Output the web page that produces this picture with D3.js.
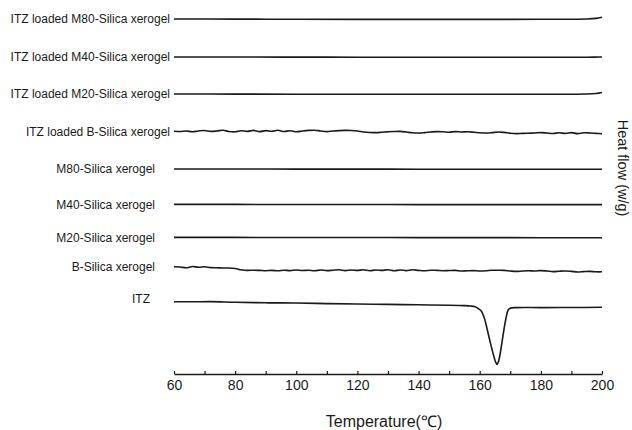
<!DOCTYPE html>
<html>
<head>
<meta charset="utf-8">
<script src="https://cdn.jsdelivr.net/npm/d3@7"></script>
<style>
  body { margin: 0; background: #fff; }
  svg text { font-family: "Liberation Sans", Arial, sans-serif; fill: #1a1a1a; }
</style>
</head>
<body>
<svg id="chart" width="632" height="430"></svg>
<script>
// DSC traces (heat flow, stacked with vertical offsets, arbitrary units)

// Temperature grid for the noisy xerogel traces (°C)
const gridTemps = [60, 62, 64, 66, 68, 70, 72, 74, 76, 78, 80, 82, 84, 86, 88, 90, 92, 94, 96, 98,
  100, 102, 104, 106, 108, 110, 112, 114, 116, 118, 120, 122, 124, 126, 128, 130, 132, 134, 136, 138,
  140, 142, 144, 146, 148, 150, 152, 154, 156, 158, 160, 162, 164, 166, 168, 170, 172, 174, 176, 178,
  180, 182, 184, 186, 188, 190, 192, 194, 196, 198, 200];

// Temperature points for the smooth traces (°C)
const flatTemps = [60, 80, 100, 120, 140, 160, 180, 195, 198, 200];

// ITZ temperature points, dense around the melting endotherm (°C)
const itzTemps = [60, 66, 72, 80, 90, 100, 110, 120, 130, 140, 150, 155, 157, 158.5, 159.5, 160.5,
  161.5, 162.5, 163.5, 164.5, 165.2, 165.7, 166.2, 167, 167.8, 168.6, 169.3, 170, 172, 180, 190, 200];

const loadedM80Flow = [35.5, 35.49, 35.47, 35.46, 35.46, 35.46, 35.47, 35.5, 35.56, 35.68];
const loadedM40Flow = [31.7, 31.7, 31.69, 31.68, 31.67, 31.68, 31.68, 31.68, 31.69, 31.7];
const loadedM20Flow = [28.0, 27.99, 27.98, 27.97, 27.97, 27.97, 27.98, 28.0, 28.05, 28.15];

const loadedBFlow = [24.28, 24.25, 24.3, 24.22, 24.3, 24.35, 24.26, 24.3, 24.38, 24.25,
  24.22, 24.33, 24.26, 24.36, 24.24, 24.34, 24.27, 24.37, 24.25, 24.33,
  24.22, 24.3, 24.36, 24.38, 24.3, 24.24, 24.3, 24.34, 24.36, 24.35,
  24.3, 24.2, 24.15, 24.14, 24.18, 24.22, 24.25, 24.26, 24.2, 24.12,
  24.1, 24.14, 24.2, 24.24, 24.22, 24.18, 24.24, 24.2, 24.22, 24.18,
  24.12, 24.1, 24.14, 24.2, 24.16, 24.08, 24.04, 24.06, 24.08, 24.1,
  24.14, 24.1, 24.05, 24.12, 24.06, 24.14, 24.04, 24.12, 24.1, 24.06, 24.02];

const m80Flow = [20.5, 20.5, 20.49, 20.49, 20.48, 20.48, 20.48, 20.48, 20.48, 20.48];
const m40Flow = [16.96, 16.96, 16.95, 16.95, 16.94, 16.94, 16.94, 16.94, 16.94, 16.94];
const m20Flow = [13.66, 13.66, 13.65, 13.65, 13.64, 13.64, 13.63, 13.63, 13.63, 13.63];

const bFlow = [10.72, 10.7, 10.62, 10.75, 10.68, 10.72, 10.64, 10.62, 10.6, 10.6,
  10.55, 10.42, 10.36, 10.38, 10.36, 10.33, 10.36, 10.32, 10.38, 10.34,
  10.4, 10.35, 10.38, 10.32, 10.4, 10.34, 10.38, 10.42, 10.34, 10.4,
  10.36, 10.42, 10.33, 10.4, 10.36, 10.42, 10.32, 10.4, 10.34, 10.42,
  10.36, 10.32, 10.38, 10.36, 10.33, 10.35, 10.36, 10.3, 10.32, 10.34,
  10.3, 10.32, 10.38, 10.37, 10.36, 10.3, 10.26, 10.3, 10.32, 10.3,
  10.34, 10.3, 10.24, 10.28, 10.3, 10.26, 10.2, 10.24, 10.26, 10.22, 10.22];

const itzFlow = [7.23, 7.22, 7.24, 7.18, 7.12, 7.1, 7.04, 7.0, 6.96, 6.92, 6.88, 6.84, 6.8, 6.72, 6.55, 6.3,
  5.6, 4.4, 3.1, 1.9, 1.2, 0.95, 1.3, 2.6, 4.2, 5.6, 6.4, 6.58, 6.64, 6.64, 6.65, 6.67];

const seriesNames = [
  "ITZ loaded M80-Silica xerogel",
  "ITZ loaded M40-Silica xerogel",
  "ITZ loaded M20-Silica xerogel",
  "ITZ loaded B-Silica xerogel",
  "M80-Silica xerogel",
  "M40-Silica xerogel",
  "M20-Silica xerogel",
  "B-Silica xerogel",
  "ITZ"
];

const majorTicks = [60, 80, 100, 120, 140, 160, 180, 200];
const minorTicks = [70, 90, 110, 130, 150, 170, 190];

const series = [
  { name: seriesNames[0], temps: flatTemps, flow: loadedM80Flow },
  { name: seriesNames[1], temps: flatTemps, flow: loadedM40Flow },
  { name: seriesNames[2], temps: flatTemps, flow: loadedM20Flow },
  { name: seriesNames[3], temps: gridTemps, flow: loadedBFlow },
  { name: seriesNames[4], temps: flatTemps, flow: m80Flow },
  { name: seriesNames[5], temps: flatTemps, flow: m40Flow },
  { name: seriesNames[6], temps: flatTemps, flow: m20Flow },
  { name: seriesNames[7], temps: gridTemps, flow: bFlow },
  { name: seriesNames[8], temps: itzTemps, flow: itzFlow }
];

const svg = d3.select("#chart");
const ink = "#1a1a1a";

const x = d3.scaleLinear().domain([60, 200]).range([174, 602]);
const y = d3.scaleLinear().domain([0, 36]).range([374, 14]);

const line = d3.line()
  .x(d => x(d[0]))
  .y(d => y(d[1]))
  .curve(d3.curveCatmullRom.alpha(0.5));

// traces
svg.append("g")
  .selectAll("path")
  .data(series)
  .join("path")
  .attr("fill", "none")
  .attr("stroke", ink)
  .attr("stroke-width", 1.6)
  .attr("stroke-linejoin", "round")
  .attr("d", s => line(s.temps.map((t, i) => [t, s.flow[i]])));

// sample names to the left of each trace
function labelGap(name) {
  if (name.startsWith("ITZ loaded")) return 4;
  if (name === "ITZ") return 24;
  return 19;
}
svg.append("g")
  .selectAll("text")
  .data(series)
  .join("text")
  .attr("x", s => x(60) - labelGap(s.name))
  .attr("y", s => y(s.flow[0]) - (s.name === "ITZ" ? 3 : 0))
  .attr("dy", "0.36em")
  .attr("text-anchor", "end")
  .style("font-size", "12px")
  .text(s => s.name);

// temperature axis
const axisG = svg.append("g").attr("transform", `translate(0,${y(0)})`);
axisG.call(d3.axisBottom(x).tickValues(majorTicks).tickSizeInner(-3).tickSizeOuter(0).tickPadding(6));
axisG.append("g").call(d3.axisBottom(x).tickValues(minorTicks).tickFormat("").tickSizeInner(-3).tickSizeOuter(0))
  .select(".domain").remove();
axisG.selectAll(".domain").attr("stroke", ink).attr("stroke-width", 1.4);
axisG.selectAll(".tick line").attr("stroke", ink).attr("stroke-width", 1.2);
axisG.selectAll(".tick text")
  .attr("fill", ink)
  .style("font-family", '"Liberation Sans", Arial, sans-serif')
  .style("font-size", "14px");

// axis titles
svg.append("text")
  .attr("x", 384)
  .attr("y", 427)
  .attr("text-anchor", "middle")
  .style("font-size", "16px")
  .text("Temperature(℃)");

svg.append("text")
  .attr("transform", "translate(618,168) rotate(90)")
  .attr("text-anchor", "middle")
  .style("font-size", "14.5px")
  .text("Heat flow (w/g)");
</script>
</body>
</html>
